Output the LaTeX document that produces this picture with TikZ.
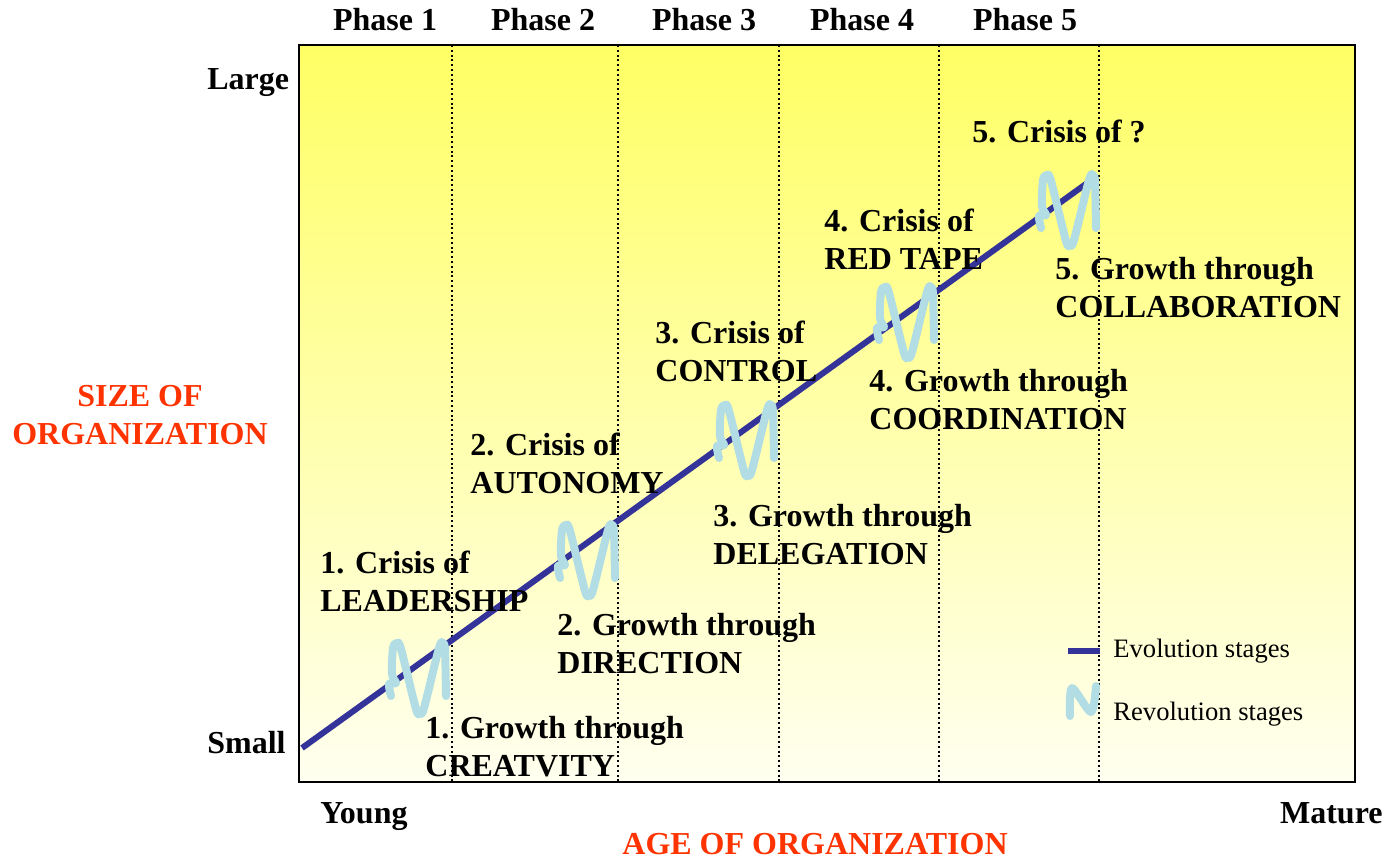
\documentclass[tikz,border=0pt]{standalone}
\usepackage{fontspec}
\setmainfont{Liberation Serif}
\usetikzlibrary{positioning}
\definecolor{evoblue}{RGB}{51,51,153}
\definecolor{revblue}{RGB}{178,221,228}
\definecolor{axisred}{RGB}{255,51,0}
\definecolor{topyellow}{RGB}{255,255,100}
\definecolor{lowyellow}{RGB}{255,255,240}

\begin{document}
\begin{tikzpicture}[x=0.5pt,y=-0.5pt,
    every node/.style={inner sep=0pt,font=\fontsize{16}{19}\selectfont\bfseries},
    stage/.style={anchor=north west,align=left},
    axislabel/.style={text=axisred},
    legend/.style={anchor=base west,font=\fontsize{13.3}{16}\selectfont},
    evoline/.style={evoblue,line width=3pt},
    revol/.pic={\draw[revblue,line width=4pt,line cap=round,line join=round]
        plot[smooth,tension=0.5] coordinates {(-27,18) (-29,6) (-22,5) (-26,-4) (-25,-30) (-21,-35) (-17,-29)
          (-2,31) (2,35) (6,30) (21,-30) (25,-35) (27,-28) (28,18)};}]
    \useasboundingbox (0,0) rectangle (1387,859);
    %%%%% THE CHART AREA
    \coordinate (corner) at (299,45);
    \coordinate (opposite) at (1355,782);
    \draw[line width=1pt,top color=topyellow,bottom color=lowyellow] (corner) rectangle (opposite);
    \foreach \x in {452,618,779,939,1099}
      \draw[line width=1pt,dash pattern=on 1pt off 1.4pt] (\x,45) -- (\x,782);
    \foreach \n/\x in {1/385,2/543,3/704,4/862,5/1025}
      \node (phase\n) at (\x,20) {Phase \n};
    %%%%% EVOLUTION AND REVOLUTION
    \coordinate (young) at (302,748);
    \coordinate (mature) at (1097,176);
    \draw[evoline] (young) -- (mature);
    \foreach \n/\x/\y in {1/418/678,2/587/560,3/746/440,4/906/322,5/1068/210}
      \pic (rev\n) at (\x,\y) {revol};
    %%%%% THE STAGES
    \node[stage] (crisis1) at (320,551) {1. Crisis of\\LEADERSHIP};
    \node[stage] (growth1) at (425,716) {1. Growth through\\CREATVITY};
    \node[stage] (crisis2) at (470,433) {2. Crisis of\\AUTONOMY};
    \node[stage] (growth2) at (557,613) {2. Growth through\\DIRECTION};
    \node[stage] (crisis3) at (655,321) {3. Crisis of\\CONTROL};
    \node[stage] (growth3) at (713,504) {3. Growth through\\DELEGATION};
    \node[stage] (crisis4) at (824,209) {4. Crisis of\\RED TAPE};
    \node[stage] (growth4) at (869,369) {4. Growth through\\COORDINATION};
    \node[stage] (crisis5) at (972,120) {5. Crisis of ?};
    \node[stage] (growth5) at (1055,257) {5. Growth through\\COLLABORATION};
    %%%%% THE AXES
    \node[anchor=base west] (large) at (207,89) {Large};
    \node[anchor=base west] (small) at (207,753) {Small};
    \node[anchor=base west] (youngtxt) at (320,823) {Young};
    \node[anchor=base east] (maturetxt) at (1383,823) {Mature};
    \node[axislabel,anchor=north,align=center] (size) at (140,385) {SIZE OF\\ORGANIZATION};
    \node[axislabel,anchor=base] (age) at (815,854) {AGE OF ORGANIZATION};
    %%%%% THE LEGEND
    \coordinate (evoa) at (1068,651);
    \coordinate (evob) at (1100,651);
    \draw[evoline] (evoa) -- (evob);
    \node[legend] (evotxt) at (1113,657) {Evolution stages};
    \draw[revblue,line width=4pt,line cap=round,line join=round]
      plot[smooth,tension=0.5] coordinates {(1070,716) (1072,688) (1091,712) (1096,686)};
    \node[legend] (revtxt) at (1113,720) {Revolution stages};
\end{tikzpicture}
\end{document}
